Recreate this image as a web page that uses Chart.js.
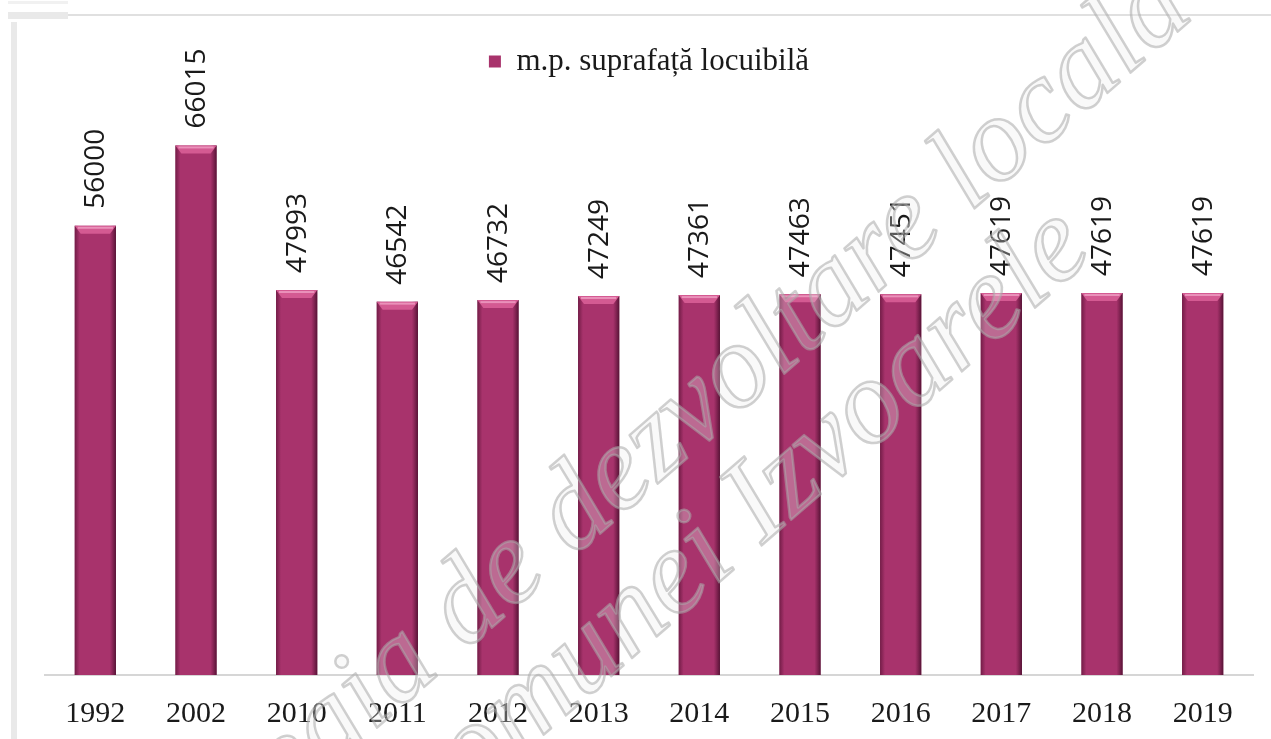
<!DOCTYPE html>
<html>
<head>
<meta charset="utf-8">
<script src="https://cdn.jsdelivr.net/npm/chart.js@4.4.0/dist/chart.umd.min.js"></script>
<style>
  html, body { margin: 0; padding: 0; background: #fff; }
  #wrap { width: 1271px; height: 739px; position: relative; }
</style>
</head>
<body>
<div id="wrap"><canvas id="chart" width="1271" height="739"></canvas></div>
<script>
// date
const ani = ["1992", "2002", "2010", "2011", "2012", "2013", "2014", "2015", "2016", "2017", "2018", "2019"];
const suprafata = [56000, 66015, 47993, 46542, 46732, 47249, 47361, 47463, 47451, 47619, 47619, 47619];
const eticheta = "m.p. suprafață locuibilă";

const culoare = "#a8336c";

// chenarul gri deschis din scan
const chenar = {
  id: "chenar",
  beforeDraw(chart) {
    const c = chart.ctx;
    c.save();
    c.fillStyle = "#fff";
    c.fillRect(0, 0, chart.width, chart.height);
    c.fillStyle = "#f1f1f1";
    c.fillRect(8, 1, 60, 3);
    c.fillStyle = "#e9e9e9";
    c.fillRect(8, 12, 60, 7);
    c.fillRect(11, 22, 6, chart.height - 22);
    c.strokeStyle = "#e0e0e0";
    c.lineWidth = 2;
    c.beginPath();
    c.moveTo(68, 15);
    c.lineTo(chart.width, 15);
    c.stroke();
    c.restore();
  }
};

// efect 3D pe bare + etichete rotite
const bare = {
  id: "bare",
  afterDatasetsDraw(chart) {
    const c = chart.ctx;
    const meta = chart.getDatasetMeta(0);
    c.save();
    meta.data.forEach((bar, i) => {
      const w = bar.width, x0 = bar.x - w / 2, x1 = bar.x + w / 2;
      const top = bar.y, base = bar.base;
      // margini intunecate
      const g = c.createLinearGradient(x0, 0, x1, 0);
      g.addColorStop(0, "rgba(70,10,40,0.55)");
      g.addColorStop(0.12, "rgba(70,10,40,0)");
      g.addColorStop(0.85, "rgba(70,10,40,0)");
      g.addColorStop(1, "rgba(50,5,30,0.7)");
      c.fillStyle = g;
      c.fillRect(x0, top, w, base - top);
      // bizou sus
      c.fillStyle = "#d45a92";
      c.beginPath();
      c.moveTo(x0, top);
      c.lineTo(x1, top);
      c.lineTo(x1 - 6, top + 8);
      c.lineTo(x0 + 6, top + 8);
      c.closePath();
      c.fill();
      c.fillStyle = "rgba(255,200,225,0.5)";
      c.fillRect(x0 + 3, top + 1, w - 6, 2);

      // eticheta valorii
      c.save();
      c.translate(bar.x, top - 17);
      c.rotate(-Math.PI / 2);
      c.font = "28px 'Open Sans'";
      c.fillStyle = "#1a1a1a";
      c.textAlign = "left";
      c.textBaseline = "middle";
      c.fillText(String(suprafata[i]), 0, 1);
      c.restore();
    });
    c.restore();
  }
};

// filigranul din document
const filigran = {
  id: "filigran",
  afterDraw(chart) {
    const c = chart.ctx;
    const unghi = -41 * Math.PI / 180;
    c.save();
    c.font = "italic 120px 'Liberation Serif'";
    c.lineWidth = 2.5;
    c.lineJoin = "round";
    c.strokeStyle = "rgba(170,170,170,0.55)";
    c.fillStyle = "rgba(235,235,235,0.3)";
    c.textBaseline = "alphabetic";
    const linii = [
      { text: "Strategia de dezvoltare locală", skip: "Strateg", x: 372, y: 732 },
      { text: "comunei Izvoarele", skip: "co", x: 518, y: 757 }
    ];
    linii.forEach(l => {
      c.save();
      c.translate(l.x, l.y);
      c.rotate(unghi);
      const off = c.measureText(l.skip).width;
      c.fillText(l.text, -off, 0);
      c.strokeText(l.text, -off, 0);
      c.restore();
    });
    c.restore();
  }
};

new Chart(document.getElementById("chart"), {
  type: "bar",
  data: {
    labels: ani,
    datasets: [{
      label: eticheta,
      data: suprafata,
      backgroundColor: culoare,
      borderWidth: 0,
      categoryPercentage: 1,
      barPercentage: 0.41
    }]
  },
  options: {
    responsive: false,
    animation: false,
    layout: { padding: { left: 45, right: 18, top: 36, bottom: 0 } },
    scales: {
      x: {
        grid: { display: false, drawTicks: false },
        border: { display: true, color: "#d6d6d6", width: 2 },
        ticks: {
          color: "#1a1a1a",
          font: { family: "'Liberation Serif'", size: 30 },
          padding: 21
        },
        afterFit(scale) { scale.height = 64; }
      },
      y: {
        display: false,
        min: 0,
        max: 73300
      }
    },
    plugins: {
      legend: {
        position: "top",
        align: "center",
        labels: {
          color: "#1a1a1a",
          font: { family: "'Liberation Serif'", size: 31 },
          boxWidth: 12,
          boxHeight: 12,
          padding: 10
        }
      },
      tooltip: { enabled: false }
    }
  },
  plugins: [chenar, bare, filigran]
});
</script>
</body>
</html>
